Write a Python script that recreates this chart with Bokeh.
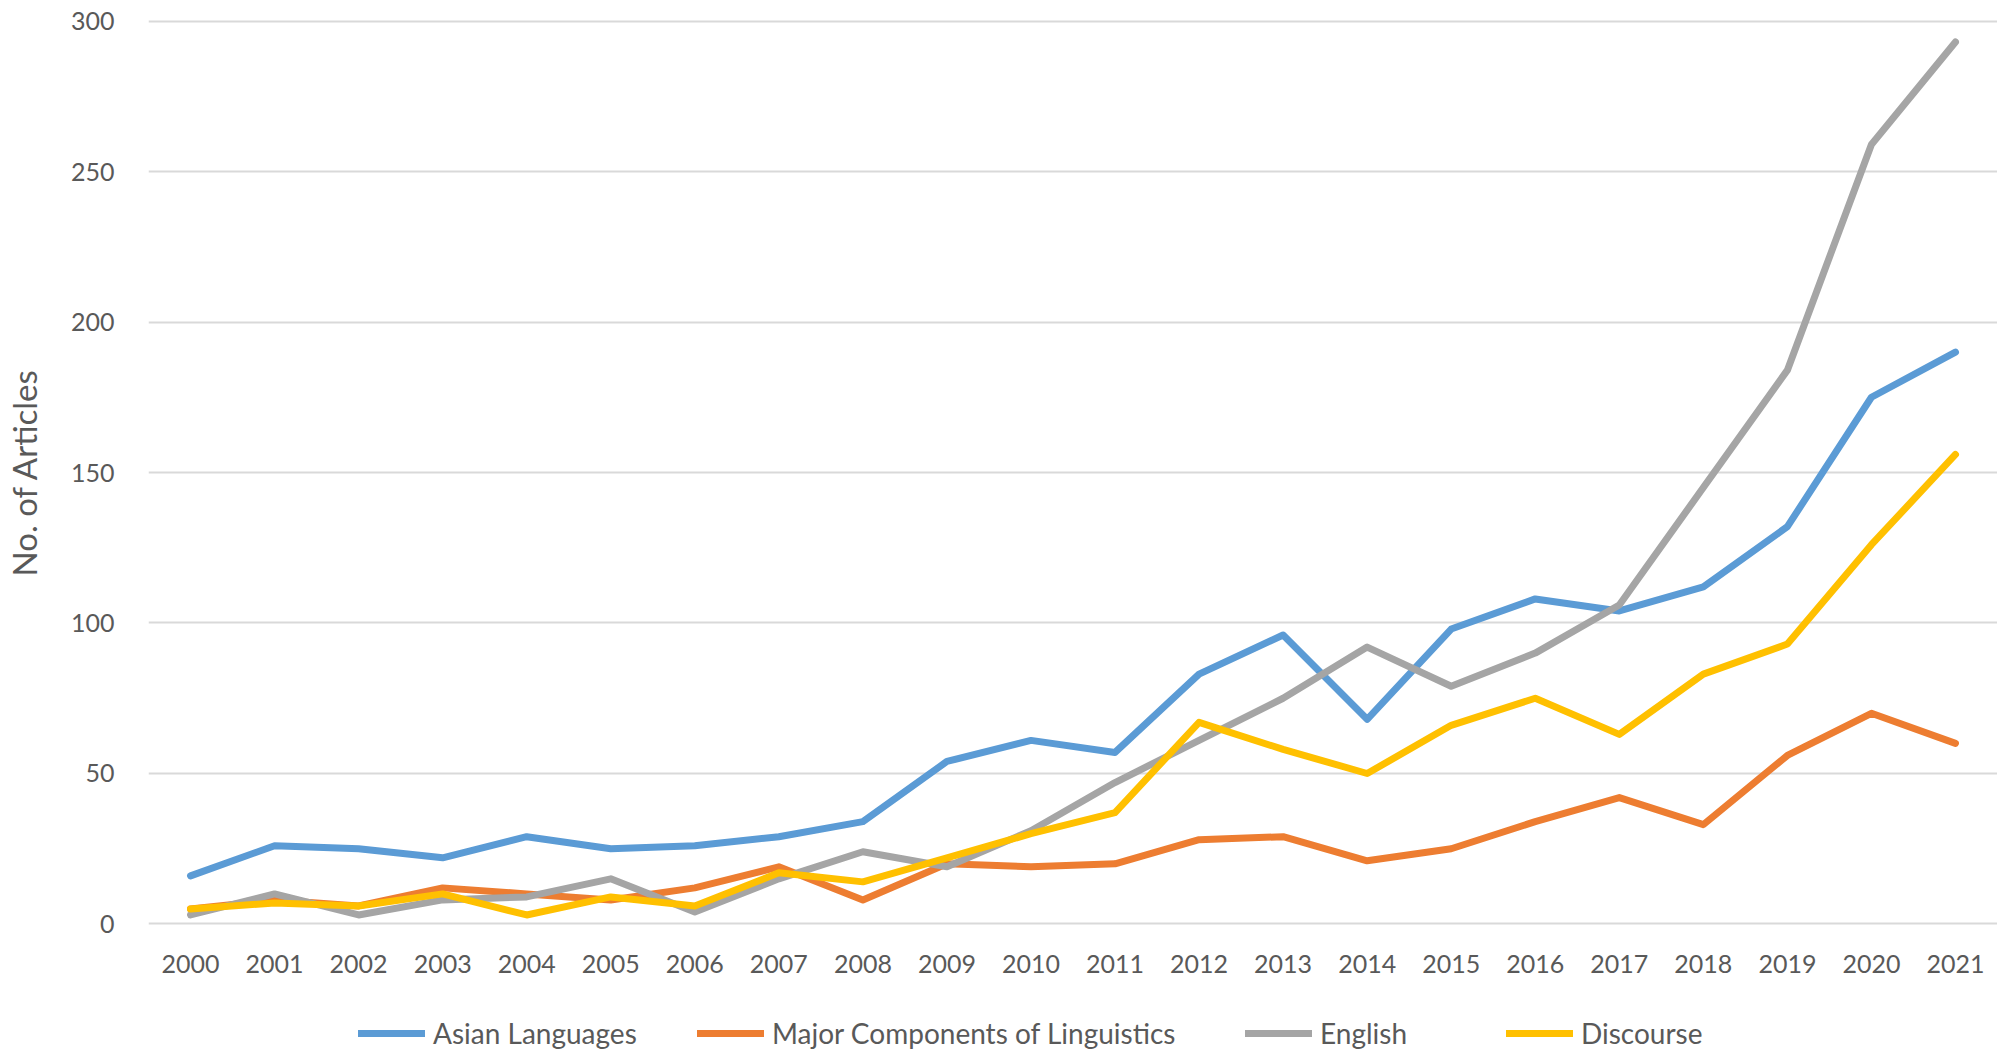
from bokeh.plotting import figure
from bokeh.models import Legend, LegendItem, FixedTicker
from bokeh.layouts import column
from bokeh.embed import file_html
from bokeh.resources import INLINE

years = [str(y) for y in range(2000, 2022)]
asian_languages = [16, 26, 25, 22, 29, 25, 26, 29, 34, 54, 61, 57, 83, 96, 68, 98, 108, 104, 112, 132, 175, 190]
major_components = [5, 8, 6, 12, 10, 8, 12, 19, 8, 20, 19, 20, 28, 29, 21, 25, 34, 42, 33, 56, 70, 60]
english = [3, 10, 3, 8, 9, 15, 4, 15, 24, 19, 31, 47, 61, 75, 92, 79, 90, 106, 145, 184, 259, 293]
discourse = [5, 7, 6, 10, 3, 9, 6, 17, 14, 22, 30, 37, 67, 58, 50, 66, 75, 63, 83, 93, 126, 156]
y_ticks = [0, 50, 100, 150, 200, 250, 300]

series_names = ["Asian Languages", "Major Components of Linguistics", "English", "Discourse"]
series_values = [asian_languages, major_components, english, discourse]
colors = ["#5B9BD5", "#ED7D31", "#A5A5A5", "#FFC000"]

FONT = "Lato"
TXT = "#595959"
LW = 7

p = figure(x_range=years, y_range=(-0.5, 300.5), frame_width=1849, frame_height=906,
           output_backend="svg", toolbar_location=None,
           min_border_left=136, min_border_right=0, min_border_top=19, min_border_bottom=56)
p.outline_line_color = None
p.background_fill_color = "white"

for name, vals, c in zip(series_names, series_values, colors):
    p.line(years, vals, line_color=c, line_width=LW, line_join="round", line_cap="round")

p.xgrid.grid_line_color = None
p.ygrid.ticker = FixedTicker(ticks=y_ticks)
p.ygrid.grid_line_color = "#D9D9D9"
p.ygrid.grid_line_width = 2

p.yaxis.ticker = FixedTicker(ticks=y_ticks)
for ax in (p.xaxis[0], p.yaxis[0]):
    ax.axis_line_color = None
    ax.major_tick_line_color = None
    ax.minor_tick_line_color = None
    ax.major_label_text_font = FONT
    ax.major_label_text_font_size = "25px"
    ax.major_label_text_color = TXT
p.xaxis.major_label_standoff = 23
p.yaxis.major_label_standoff = 28
p.yaxis.axis_label = "No. of Articles"
p.yaxis.axis_label_text_font = FONT
p.yaxis.axis_label_text_font_size = "33px"
p.yaxis.axis_label_text_font_style = "normal"
p.yaxis.axis_label_text_color = TXT
p.yaxis.axis_label_standoff = 24

# legend strip below the chart (its frame is aligned with the chart's frame)
lf = figure(width=1985, height=69, x_range=(0, 1), y_range=(0, 1),
            output_backend="svg", toolbar_location=None,
            x_axis_location=None, y_axis_location=None,
            min_border_left=0, min_border_right=0, min_border_top=0, min_border_bottom=0)
lf.outline_line_color = None
lf.grid.visible = False

legend_x = [210, 549, 1097, 1358]
for name, c, lx in zip(series_names, colors, legend_x):
    r = lf.line(x=[-5, -4], y=[-5, -4], line_color=c, line_width=LW, line_cap="round")
    lg = Legend(items=[LegendItem(label=name, renderers=[r])],
                orientation="horizontal", location=(lx, 0),
                label_text_font=FONT, label_text_font_size="28px", label_text_color=TXT,
                glyph_width=67, glyph_height=30, label_height=30, label_standoff=8,
                padding=0, margin=0, border_line_color=None, background_fill_alpha=0)
    lf.add_layout(lg, "center")

open("out.html", "w").write(file_html(column(p, lf), INLINE))
